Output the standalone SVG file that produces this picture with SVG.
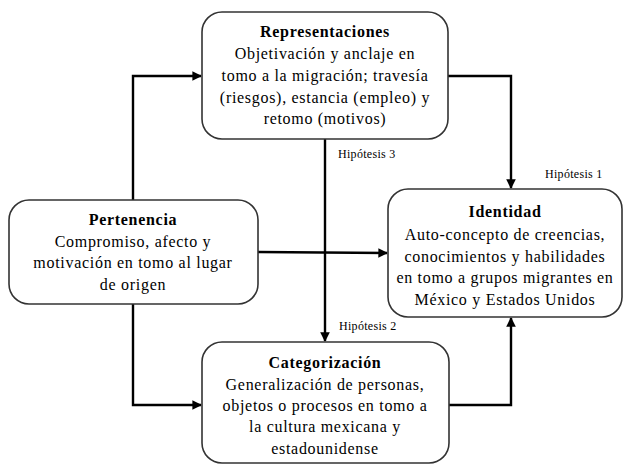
<svg xmlns="http://www.w3.org/2000/svg" width="625" height="466" viewBox="0 0 625 466">
<style>
.box{fill:#fff;stroke:#333;stroke-width:1.6}
.t{font-family:"Liberation Serif","DejaVu Serif",serif;font-size:16px;letter-spacing:0.7px;fill:#000;text-anchor:middle}
.b{font-weight:bold}
.h{font-family:"Liberation Serif","DejaVu Serif",serif;font-size:12px;letter-spacing:0.3px;fill:#000}
.c{fill:none;stroke:#000;stroke-width:2.4}
</style>
<defs>
<marker id="ar" viewBox="0 0 10 10" refX="9" refY="5" markerWidth="4" markerHeight="4" orient="auto" markerUnits="strokeWidth">
<path d="M0,0 L10,5 L0,10 z" fill="#000"/>
</marker>
</defs>
<g id="connectors">
<path class="c" d="M133,200 V76 H201" marker-end="url(#ar)"/>
<path class="c" d="M133,304 V405 H201" marker-end="url(#ar)"/>
<path class="c" d="M325,139 V341" marker-end="url(#ar)"/>
<path class="c" d="M448,76 H511 V188" marker-end="url(#ar)"/>
<path class="c" d="M258,252 L387,253" marker-end="url(#ar)"/>
<path class="c" d="M449,405 H511 V318" marker-end="url(#ar)"/>
</g>
<g id="labels">
<text class="h" x="338" y="158">Hipótesis 3</text>
<text class="h" x="545" y="178">Hipótesis 1</text>
<text class="h" x="339" y="330">Hipótesis 2</text>
</g>
<g id="representaciones">
<rect class="box" x="202" y="12" width="246" height="127" rx="20"/>
<text class="t b" x="325" y="37">Representaciones</text>
<text class="t" x="325" y="59">Objetivación y anclaje en</text>
<text class="t" x="325" y="81">tomo a la migración; travesía</text>
<text class="t" x="325" y="103">(riesgos),  estancia (empleo) y</text>
<text class="t" x="325" y="124">retomo  (motivos)</text>
</g>
<g id="pertenencia">
<rect class="box" x="9" y="200" width="249" height="104" rx="20"/>
<text class="t b" x="133" y="225">Pertenencia</text>
<text class="t" x="133" y="247">Compromiso, afecto y</text>
<text class="t" x="133" y="268">motivación en tomo al lugar</text>
<text class="t" x="133" y="290">de origen</text>
</g>
<g id="identidad">
<rect class="box" x="388" y="189" width="234" height="128" rx="20"/>
<text class="t b" x="505" y="217">Identidad</text>
<text class="t" x="505" y="240">Auto-concepto de creencias,</text>
<text class="t" x="505" y="262">conocimientos y habilidades</text>
<text class="t" x="505" y="283">en tomo a grupos migrantes en</text>
<text class="t" x="505" y="305">México y Estados Unidos</text>
</g>
<g id="categorizacion">
<rect class="box" x="202" y="342" width="247" height="121" rx="20"/>
<text class="t b" x="325" y="368">Categorización</text>
<text class="t" x="325" y="390">Generalización de personas,</text>
<text class="t" x="325" y="411">objetos o procesos en tomo a</text>
<text class="t" x="325" y="432">la cultura mexicana y</text>
<text class="t" x="325" y="454">estadounidense</text>
</g>
</svg>
